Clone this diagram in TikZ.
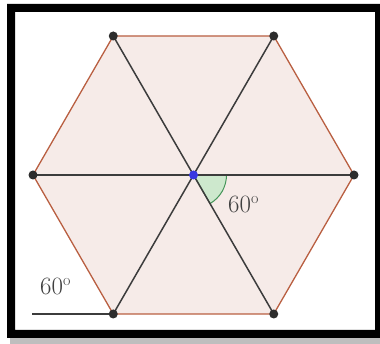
\documentclass[tikz,border=0pt]{standalone}
\usepackage{fontspec}
\definecolor{hexfill}{RGB}{246,235,232}
\definecolor{hexedge}{RGB}{185,95,65}
\definecolor{diag}{RGB}{60,60,60}
\definecolor{ptcol}{RGB}{45,45,45}
\definecolor{ctrcol}{RGB}{55,55,225}
\definecolor{angfill}{RGB}{205,232,205}
\definecolor{angedge}{RGB}{70,150,90}
\definecolor{shadowgray}{RGB}{190,190,190}
\tikzset{
  vertexdot/.style={circle, fill=ptcol, inner sep=0pt, minimum size=9pt},
  centerdot/.style={circle, fill=ctrcol, inner sep=0pt, minimum size=9pt},
  hexside/.style={draw=hexedge, line width=1.3pt},
  diagline/.style={draw=diag, line width=1.5pt},
  anglabel/.style={font=\fontsize{23}{27}\selectfont, inner sep=0pt, text=black!75}
}
\begin{document}
\begin{tikzpicture}[x=1pt,y=-1pt]
\useasboundingbox (0,0) rectangle (380,344);
% shadow and frame
\fill[shadowgray] (10,338) rectangle (380,344);
\fill[black, even odd rule] (7,4) rectangle (386,338) (15,12) rectangle (375,330);
% coordinates
\coordinate (C) at (193.5,175);
\coordinate (R) at (354,175);
\coordinate (TR) at (273.75,36);
\coordinate (TL) at (113.25,36);
\coordinate (L) at (33,175);
\coordinate (BL) at (113.25,314);
\coordinate (BR) at (273.75,314);
\coordinate (E) at (32,314);
% hexagon fill
\fill[hexfill] (R) -- (TR) -- (TL) -- (L) -- (BL) -- (BR) -- cycle;
% angle
\filldraw[fill=angfill, draw=angedge, line width=1pt] (C) -- ++(33,0) arc[start angle=0, end angle=60, radius=33] -- cycle;
% sides
\draw[hexside] (R) -- (TR) -- (TL) -- (L) -- (BL) -- (BR) -- cycle;
% diagonals
\draw[diagline] (L) -- (R);
\draw[diagline] (TL) -- (BR);
\draw[diagline] (TR) -- (BL);
\draw[diagline] (E) -- (BL);
% dots
\node[vertexdot] (nR) at (R) {};
\node[vertexdot] (nTR) at (TR) {};
\node[vertexdot] (nTL) at (TL) {};
\node[vertexdot] (nL) at (L) {};
\node[vertexdot] (nBL) at (BL) {};
\node[vertexdot] (nBR) at (BR) {};
\node[centerdot] (nC) at (C) {};
% labels
\node[anglabel, anchor=base west] (lab1) at (228,213) {$60^{\mathrm{o}}$};
\node[anglabel, anchor=base west] (lab2) at (40,295) {$60^{\mathrm{o}}$};
\end{tikzpicture}
\end{document}
